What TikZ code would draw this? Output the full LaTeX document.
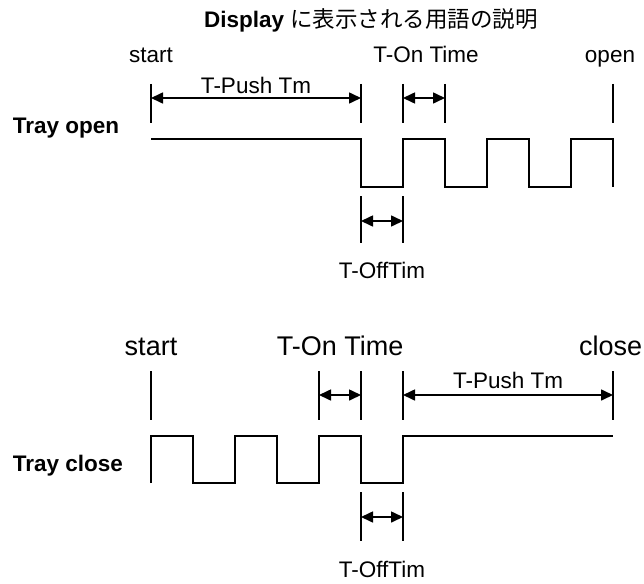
\documentclass[tikz,border=0pt]{standalone}
\usepackage{fontspec}
\setmainfont{Liberation Sans}
\newfontfamily\jpfont{Noto Sans CJK JP}
\usetikzlibrary{arrows.meta,positioning}

\begin{document}
\begin{tikzpicture}[x=1pt,y=-1pt,line width=1.9pt,
  lbl/.style={font=\fontsize{22.5}{26}\selectfont,inner sep=0pt,anchor=base},
  biglbl/.style={font=\fontsize{27}{31}\selectfont,inner sep=0pt,anchor=base},
  tray/.style={font=\fontsize{22.5}{26}\selectfont\bfseries,inner sep=0pt,anchor=base west},
  dim/.style={{Triangle[length=12pt,width=11pt]}-{Triangle[length=12pt,width=11pt]},line width=1.6pt},
  tick/.style={line width=1.6pt}]
\useasboundingbox (0,0) rectangle (644,583);

\node[lbl,anchor=center](title) at (371,20) {\textbf{Display} {\jpfont に表示される用語の説明}};

% Tray open
\node[tray](opentray) at (12,133) {Tray open};
\node[lbl](ostart) at (151,63) {start};
\node[lbl](oon) at (426,63) {T-On Time};
\node[lbl](oopen) at (610,63) {open};
\node[lbl](opush) at (256,93) {T-Push Tm};
\node[lbl](ooff) at (382,278) {T-OffTim};

\foreach \x/\n in {151/a,361/b,403/c,445/d,613/e}{
  \coordinate(ot\n) at (\x,84);
  \coordinate(ob\n) at (\x,123);
  \coordinate(om\n) at (\x,98);
  \draw[tick] (ot\n) -- (ob\n);
}
\draw[dim] (oma) -- (omb);
\draw[dim] (omc) -- (omd);

\foreach \x/\n in {361/a,403/b}{
  \coordinate(oft\n) at (\x,196);
  \coordinate(ofb\n) at (\x,243);
  \coordinate(ofm\n) at (\x,221);
  \draw[tick] (oft\n) -- (ofb\n);
}
\draw[dim] (ofma) -- (ofmb);

\draw (151,139) -- (361,139) -- (361,187) -- (403,187) -- (403,139) -- (445,139)
  -- (445,187) -- (487,187) -- (487,139) -- (529,139) -- (529,187) -- (571,187)
  -- (571,139) -- (613,139) -- (613,187);

% Tray close
\node[tray](closetray) at (12,471) {Tray close};
\node[biglbl](cstart) at (151,355) {start};
\node[biglbl](con) at (340,355) {T-On Time};
\node[biglbl,anchor=base east](cclose) at (643,355) {close};
\node[lbl](cpush) at (508,388) {T-Push Tm};
\node[lbl](coff) at (382,577) {T-OffTim};

\foreach \x/\n in {151/a,319/b,361/c,403/d,613/e}{
  \coordinate(ct\n) at (\x,371);
  \coordinate(cb\n) at (\x,420);
  \coordinate(cm\n) at (\x,395);
  \draw[tick] (ct\n) -- (cb\n);
}
\draw[dim] (cmb) -- (cmc);
\draw[dim] (cmd) -- (cme);

\foreach \x/\n in {361/a,403/b}{
  \coordinate(cft\n) at (\x,492);
  \coordinate(cfb\n) at (\x,541);
  \coordinate(cfm\n) at (\x,517);
  \draw[tick] (cft\n) -- (cfb\n);
}
\draw[dim] (cfma) -- (cfmb);

\draw (151,483) -- (151,436) -- (193,436) -- (193,483) -- (235,483) -- (235,436)
  -- (277,436) -- (277,483) -- (319,483) -- (319,436) -- (361,436) -- (361,483)
  -- (403,483) -- (403,436) -- (613,436);
\end{tikzpicture}
\end{document}
